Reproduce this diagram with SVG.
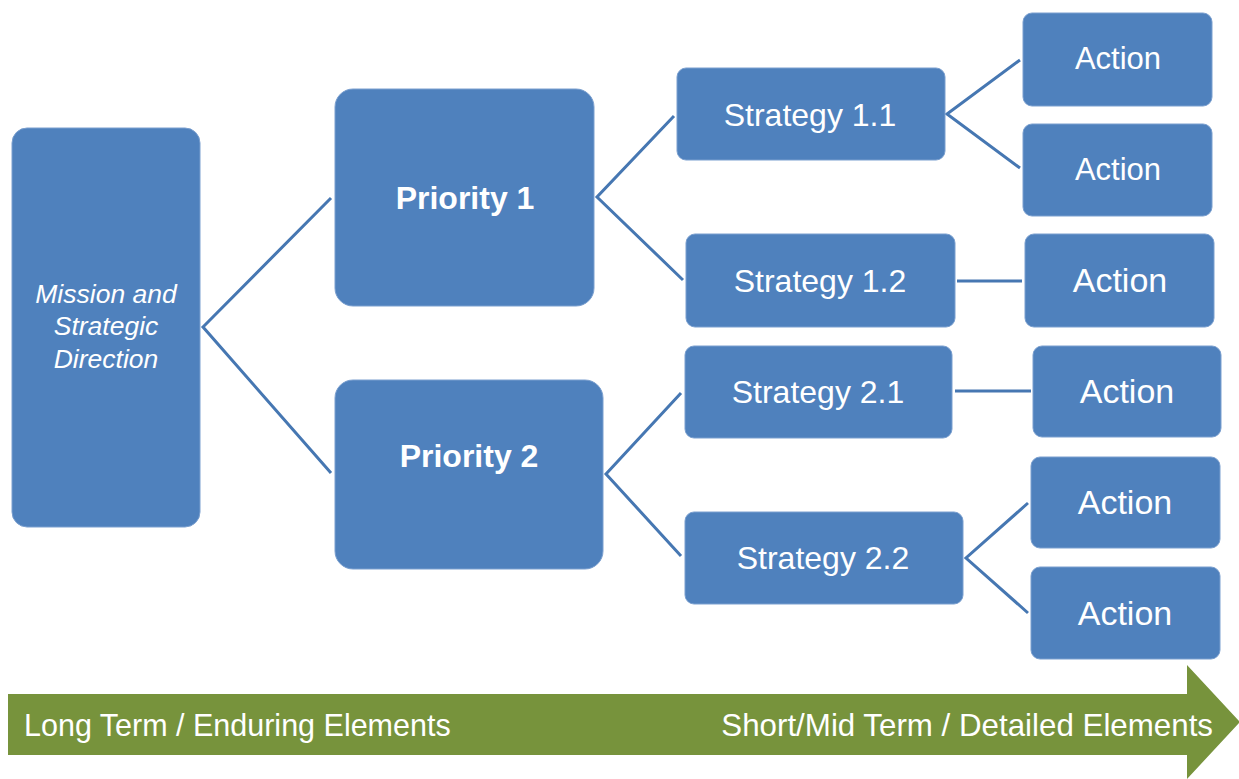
<svg xmlns="http://www.w3.org/2000/svg" width="1239" height="779" viewBox="0 0 1239 779">
<style>
.box{fill:#4F81BD;stroke:#7A9FCF;stroke-width:1}
.t{font-family:"Liberation Sans",Arial,sans-serif;fill:#ffffff;text-anchor:middle}
.s{font-size:32px}
.a{font-size:31px}
.ab{font-size:34px}
.p{font-size:32px;font-weight:bold}
.m{font-size:26.5px;font-style:italic}
.c{fill:none;stroke:#4677B2;stroke-width:3;stroke-linejoin:miter}
.g{font-family:"Liberation Sans",Arial,sans-serif;fill:#ffffff}
</style>
<rect width="1239" height="779" fill="#ffffff"/>
<g id="connectors">
<polyline class="c" points="331,198 203,327 331,473"/>
<polyline class="c" points="674,116 597,197 683,280"/>
<polyline class="c" points="681,393 606,474 681,556"/>
<polyline class="c" points="1020,60 947,114 1020,168"/>
<line class="c" x1="957" y1="281" x2="1022" y2="281"/>
<line class="c" x1="955" y1="391" x2="1031" y2="391"/>
<polyline class="c" points="1028,503 966,558 1028,613"/>
</g>
<g id="mission">
<rect class="box" x="12" y="128" width="188" height="399" rx="15"/>
<text class="t m" x="106" y="303">Mission and</text>
<text class="t m" x="106" y="335">Strategic</text>
<text class="t m" x="106" y="368">Direction</text>
</g>
<g id="priority1">
<rect class="box" x="335" y="89" width="259" height="217" rx="18"/>
<text class="t p" x="465" y="209">Priority 1</text>
</g>
<g id="priority2">
<rect class="box" x="335" y="380" width="268" height="189" rx="18"/>
<text class="t p" x="469" y="467">Priority 2</text>
</g>
<g id="strategy11">
<rect class="box" x="677" y="68" width="268" height="92" rx="9"/>
<text class="t s" x="810" y="126">Strategy 1.1</text>
</g>
<g id="strategy12">
<rect class="box" x="686" y="234" width="269" height="93" rx="9"/>
<text class="t s" x="820" y="292">Strategy 1.2</text>
</g>
<g id="strategy21">
<rect class="box" x="685" y="346" width="267" height="92" rx="9"/>
<text class="t s" x="818" y="403">Strategy 2.1</text>
</g>
<g id="strategy22">
<rect class="box" x="685" y="512" width="278" height="92" rx="9"/>
<text class="t s" x="823" y="569">Strategy 2.2</text>
</g>
<g id="action1">
<rect class="box" x="1023" y="13" width="189" height="93" rx="9"/>
<text class="t a" x="1118" y="69">Action</text>
</g>
<g id="action2">
<rect class="box" x="1023" y="124" width="189" height="92" rx="9"/>
<text class="t a" x="1118" y="180">Action</text>
</g>
<g id="action3">
<rect class="box" x="1025" y="234" width="189" height="93" rx="9"/>
<text class="t ab" x="1120" y="292">Action</text>
</g>
<g id="action4">
<rect class="box" x="1033" y="346" width="188" height="91" rx="9"/>
<text class="t ab" x="1127" y="403">Action</text>
</g>
<g id="action5">
<rect class="box" x="1031" y="457" width="189" height="91" rx="9"/>
<text class="t ab" x="1125" y="514">Action</text>
</g>
<g id="action6">
<rect class="box" x="1031" y="567" width="189" height="92" rx="9"/>
<text class="t ab" x="1125" y="625">Action</text>
</g>
<g id="timeline">
<polygon points="8,694 1187,694 1187,665 1240,722 1187,779 1187,755 8,755" fill="#77933C"/>
<text class="g" x="24" y="736" font-size="30.5">Long Term / Enduring Elements</text>
<text class="g" x="1213" y="736" font-size="31.3" text-anchor="end">Short/Mid Term / Detailed Elements</text>
</g>
</svg>
